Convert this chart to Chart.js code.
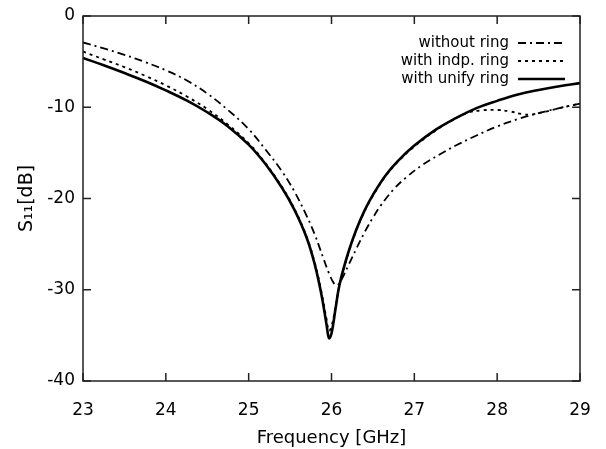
<!DOCTYPE html>
<html>
<head>
<meta charset="utf-8">
<script src="https://cdn.jsdelivr.net/npm/chart.js@4/dist/chart.umd.min.js"></script>
<style>
  html, body { margin: 0; padding: 0; background: #fff; }
  #wrap { width: 606px; height: 449px; }
</style>
</head>
<body>
<div id="wrap"><canvas id="myChart" width="606" height="449"></canvas></div>
<script>
// x-axis ticks [GHz] / y-axis ticks [dB]
const xTicks = [23, 24, 25, 26, 27, 28, 29];
const yTicks = [0, -10, -20, -30, -40];

// without ring (dash-dot)
const freqWithout = [23.0, 23.25, 23.5, 23.75, 24.0, 24.25, 24.5, 24.75, 25.0, 25.2, 25.4, 25.55, 25.7, 25.8, 25.9, 25.97, 26.03, 26.07, 26.12, 26.2, 26.3, 26.4, 26.5, 26.6, 26.75, 26.9, 27.1, 27.3, 27.5, 27.75, 28.0, 28.25, 28.5, 28.75, 29.0];
const sWithout = [-2.9, -3.55, -4.25, -5.05, -5.95, -7.05, -8.5, -10.3, -12.4, -14.6, -17.0, -19.2, -21.9, -24.0, -26.5, -28.2, -29.3, -29.5, -28.9, -27.4, -25.5, -23.7, -22.1, -20.7, -19.0, -17.7, -16.3, -15.2, -14.2, -13.1, -12.1, -11.3, -10.65, -10.1, -9.6];

// with indp. ring (dotted)
const freqIndp = [23.0, 23.25, 23.5, 23.75, 24.0, 24.25, 24.5, 24.75, 25.0, 25.2, 25.4, 25.55, 25.7, 25.8, 25.88, 25.94, 25.97, 26.0, 26.05, 26.1, 26.2, 26.3, 26.4, 26.5, 26.65, 26.8, 27.0, 27.25, 27.5, 27.65, 27.8, 28.0, 28.15, 28.3, 28.4, 28.55, 28.75, 29.0];
const sIndp = [-3.9, -4.75, -5.6, -6.55, -7.6, -8.8, -10.2, -11.9, -13.95, -16.1, -18.7, -21.1, -24.2, -27.1, -30.3, -33.2, -34.5, -34.0, -31.8, -29.4, -26.1, -23.5, -21.4, -19.7, -17.6, -16.0, -14.3, -12.6, -11.2, -10.6, -10.35, -10.3, -10.45, -10.75, -10.8, -10.55, -10.1, -9.6];

// with unify ring (solid)
const freqUnify = [23.0, 23.25, 23.5, 23.75, 24.0, 24.25, 24.5, 24.75, 25.0, 25.2, 25.4, 25.55, 25.7, 25.8, 25.88, 25.94, 25.97, 26.0, 26.05, 26.1, 26.2, 26.3, 26.4, 26.5, 26.65, 26.8, 27.0, 27.25, 27.5, 27.75, 28.0, 28.25, 28.5, 28.75, 29.0];
const sUnify = [-4.6, -5.4, -6.25, -7.15, -8.15, -9.25, -10.55, -12.1, -14.1, -16.2, -18.8, -21.2, -24.3, -27.3, -30.6, -33.8, -35.3, -34.8, -32.0, -29.3, -26.0, -23.4, -21.3, -19.6, -17.5, -15.9, -14.2, -12.5, -11.2, -10.1, -9.3, -8.6, -8.1, -7.7, -7.35];

const toPoints = (xs, ys) => xs.map((x, i) => ({x: x, y: ys[i]}));

const FONT = "'DejaVu Sans', sans-serif";

// 内向きの目盛りと外枠を描く
const frameTicks = {
    id: 'frameTicks',
    afterDraw(chart) {
        const {ctx, chartArea: a, scales} = chart;
        ctx.save();
        ctx.strokeStyle = '#222';
        ctx.lineWidth = 1.5;
        const len = 8;
        ctx.beginPath();
        scales.x.ticks.forEach((t, i) => {
            const px = scales.x.getPixelForTick(i);
            ctx.moveTo(px, a.bottom); ctx.lineTo(px, a.bottom - len);
            ctx.moveTo(px, a.top); ctx.lineTo(px, a.top + len);
        });
        scales.y.ticks.forEach((t, i) => {
            const py = scales.y.getPixelForTick(i);
            ctx.moveTo(a.left, py); ctx.lineTo(a.left + len, py);
            ctx.moveTo(a.right, py); ctx.lineTo(a.right - len, py);
        });
        ctx.stroke();
        ctx.strokeRect(a.left, a.top, a.right - a.left, a.bottom - a.top);
        ctx.restore();
    }
};

// gnuplot風の凡例（右寄せテキスト＋線見本）
const keyBox = {
    id: 'keyBox',
    afterDraw(chart) {
        const {ctx, chartArea: a} = chart;
        ctx.save();
        ctx.font = '15px ' + FONT;
        ctx.textAlign = 'right';
        ctx.textBaseline = 'middle';
        chart.data.datasets.forEach((ds, i) => {
            const y = a.top + 27 + i * 18;
            const textRight = a.right - 71;
            ctx.fillStyle = '#000';
            ctx.fillText(ds.label, textRight, y);
            ctx.strokeStyle = ds.borderColor;
            ctx.lineWidth = ds.borderWidth;
            ctx.setLineDash(ds.borderDash || []);
            ctx.beginPath();
            ctx.moveTo(textRight + 9, y);
            ctx.lineTo(textRight + 56, y);
            ctx.stroke();
        });
        ctx.restore();
    }
};

const ctx = document.getElementById('myChart').getContext('2d');
const myChart = new Chart(ctx, {
    type: 'scatter',
    data: {
        datasets: [{
            label: 'without ring',
            data: toPoints(freqWithout, sWithout),
            borderColor: '#000',
            borderWidth: 1.8,
            borderDash: [8, 4, 2, 4],
            showLine: true,
            pointRadius: 0,
            tension: 0.4
        }, {
            label: 'with indp. ring',
            data: toPoints(freqIndp, sIndp),
            borderColor: '#000',
            borderWidth: 1.8,
            borderDash: [3, 4],
            showLine: true,
            pointRadius: 0,
            tension: 0.4
        }, {
            label: 'with unify ring',
            data: toPoints(freqUnify, sUnify),
            borderColor: '#000',
            borderWidth: 2.6,
            showLine: true,
            pointRadius: 0,
            tension: 0.4
        }]
    },
    options: {
        responsive: false,
        animation: false,
        layout: { padding: { top: 16, right: 26, left: 16, bottom: 0 } },
        plugins: {
            legend: { display: false },
            tooltip: { enabled: false }
        },
        scales: {
            x: {
                type: 'linear',
                min: 23,
                max: 29,
                afterBuildTicks: s => { s.ticks = xTicks.map(v => ({value: v})); },
                afterFit: s => { s.height = 68; s.paddingLeft = 0; s.paddingRight = 0; },
                grid: { display: false, drawTicks: false },
                border: { display: false },
                ticks: {
                    color: '#000',
                    font: { family: FONT, size: 17 },
                    padding: 19,
                    maxRotation: 0
                },
                title: {
                    display: true,
                    text: 'Frequency [GHz]',
                    color: '#000',
                    font: { family: FONT, size: 18 },
                    padding: { top: 2, bottom: 0 }
                }
            },
            y: {
                type: 'linear',
                min: -40,
                max: 0,
                afterBuildTicks: s => { s.ticks = yTicks.map(v => ({value: v})); },
                afterFit: s => { s.width = 67; s.paddingTop = 0; s.paddingBottom = 0; },
                grid: { display: false, drawTicks: false },
                border: { display: false },
                ticks: {
                    color: '#000',
                    font: { family: FONT, size: 17 },
                    padding: 8
                },
                title: {
                    display: true,
                    text: 'S₁₁[dB]',
                    color: '#000',
                    font: { family: FONT, size: 19 },
                    padding: { top: 0, bottom: 4 }
                }
            }
        }
    },
    plugins: [frameTicks, keyBox]
});
</script>
</body>
</html>
